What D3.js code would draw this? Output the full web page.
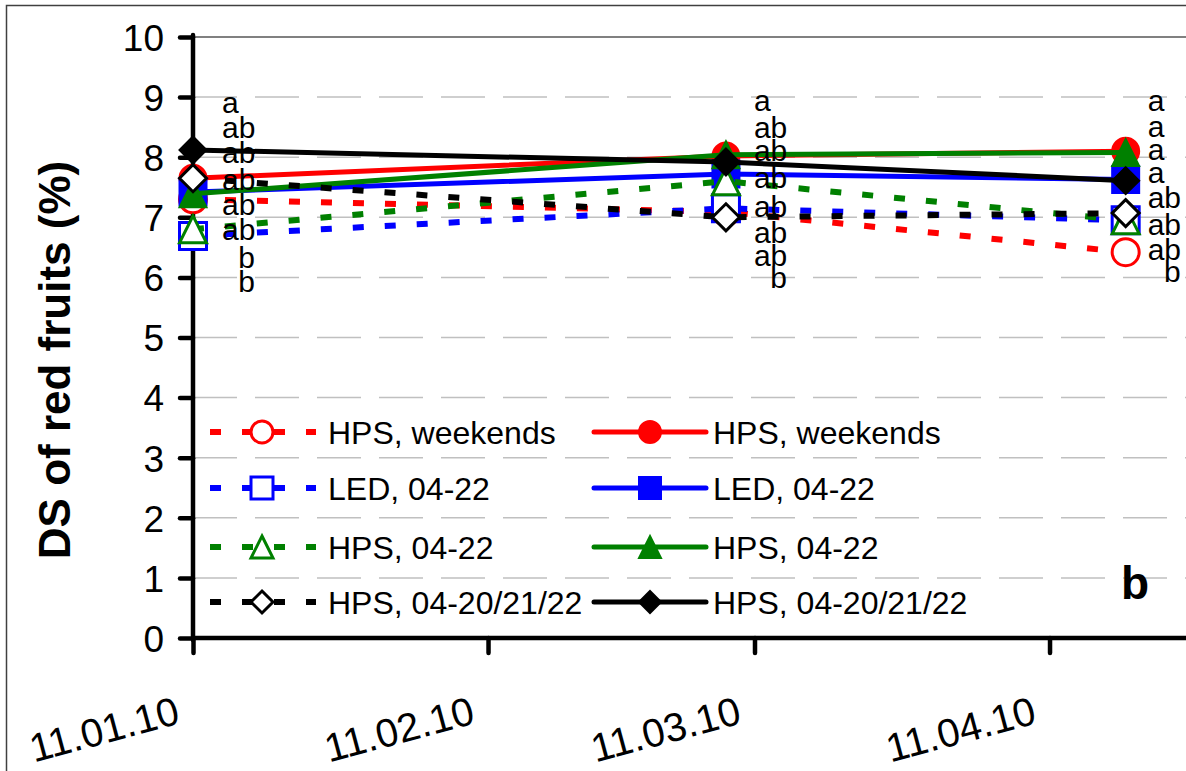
<!DOCTYPE html>
<html>
<head>
<meta charset="utf-8">
<script src="https://cdn.jsdelivr.net/npm/d3@7"></script>
<style>
  body { margin: 0; background: #fff; }
  svg { display: block; font-family: Arial, "Liberation Sans", sans-serif; }
</style>
</head>
<body>
<div class="chart"></div>
<script>
// sampling dates and tick dates
const dates = ["2010-01-11", "2010-03-08", "2010-04-19"];
const tickDates = ["2010-01-11", "2010-02-11", "2010-03-11", "2010-04-11"];
const tickLabels = ["11.01.10", "11.02.10", "11.03.10", "11.04.10"];
const yTicks = [0, 1, 2, 3, 4, 5, 6, 7, 8, 9, 10];

// series values (DS of red fruits, %)
const hpsWeekendsDashed = [7.3, 7.09, 6.42];
const hpsWeekendsSolid = [7.65, 8.02, 8.1];
const led0422Dashed = [6.69, 7.15, 6.95];
const led0422Solid = [7.42, 7.72, 7.63];
const hps0422Dashed = [6.8, 7.6, 6.95];
const hps0422Solid = [7.39, 8.04, 8.08];
const hps042022Dashed = [7.65, 7.0, 7.07];
const hps042022Solid = [8.12, 7.92, 7.61];

const seriesNames = [
  "HPS, weekends", "HPS, weekends",
  "LED, 04-22", "LED, 04-22",
  "HPS, 04-22", "HPS, 04-22",
  "HPS, 04-20/21/22", "HPS, 04-20/21/22"
];

// significance letters beside each date (top to bottom) and their heights
const letters = [
  ["a", "ab", "ab", "ab", "ab", "ab", "b", "b"],
  ["a", "ab", "ab", "ab", "ab", "ab", "ab", "b"],
  ["a", "a", "a", "a", "ab", "ab", "ab", "b"]
];
const letterLevels = [
  [8.87, 8.45, 8.04, 7.59, 7.17, 6.76, 6.29, 5.89],
  [8.9, 8.45, 8.07, 7.62, 7.14, 6.71, 6.32, 5.96],
  [8.9, 8.47, 8.09, 7.7, 7.29, 6.84, 6.42, 6.06]
];
const letterOffsets = [29, 28, 22];

const parse = d3.timeParse("%Y-%m-%d");

const series = [
  { name: seriesNames[0], values: hpsWeekendsDashed, color: "#ff0000", dashed: true, shape: "circle" },
  { name: seriesNames[1], values: hpsWeekendsSolid, color: "#ff0000", dashed: false, shape: "circle" },
  { name: seriesNames[2], values: led0422Dashed, color: "#0000ff", dashed: true, shape: "square" },
  { name: seriesNames[3], values: led0422Solid, color: "#0000ff", dashed: false, shape: "square" },
  { name: seriesNames[4], values: hps0422Dashed, color: "#008000", dashed: true, shape: "triangle" },
  { name: seriesNames[5], values: hps0422Solid, color: "#008000", dashed: false, shape: "triangle" },
  { name: seriesNames[6], values: hps042022Dashed, color: "#000000", dashed: true, shape: "diamond" },
  { name: seriesNames[7], values: hps042022Solid, color: "#000000", dashed: false, shape: "diamond" }
];

const svgWidth = 1186,
  svgHeight = 771,
  axisX = 193,
  axisBottom = 638,
  axisTop = 37,
  fontFamily = "Arial, 'Liberation Sans', sans-serif";

const svg = d3
  .select(".chart")
  .append("svg")
  .attr("width", svgWidth)
  .attr("height", svgHeight);

// outer chart frame (cut off on right and bottom)
svg
  .append("rect")
  .attr("x", 6.5)
  .attr("y", 5.5)
  .attr("width", 2000)
  .attr("height", 2000)
  .attr("fill", "none")
  .attr("stroke", "#404040")
  .attr("stroke-width", 1.5);

const xScale = d3
  .scaleTime()
  .domain([parse("2010-01-11"), parse("2010-05-11")])
  .range([axisX, axisX + 120 * 9.517]);

const yScale = d3.scaleLinear().domain([0, 10]).range([axisBottom, axisTop]);

// gridlines
svg
  .append("g")
  .selectAll("line")
  .data(yTicks.filter((d) => d > 0 && d < 10))
  .enter()
  .append("line")
  .attr("x1", axisX)
  .attr("x2", svgWidth)
  .attr("y1", (d) => yScale(d))
  .attr("y2", (d) => yScale(d))
  .attr("stroke", "#c0c0c0")
  .attr("stroke-width", 1.5)
  .attr("stroke-dasharray", "44,18");

svg
  .append("line")
  .attr("x1", axisX)
  .attr("x2", svgWidth)
  .attr("y1", yScale(10))
  .attr("y2", yScale(10))
  .attr("stroke", "#808080")
  .attr("stroke-width", 2);

// axes
const yAxis = d3.axisLeft(yScale).tickValues(yTicks).tickSize(13).tickPadding(16);
const yG = svg
  .append("g")
  .attr("transform", `translate(${axisX}, 0)`)
  .call(yAxis);
yG.selectAll(".domain").remove();
yG.selectAll(".tick line").attr("stroke", "#000").attr("stroke-width", 4.5).attr("stroke-linecap", "round");
yG.selectAll(".tick text")
  .style("font", `37px ${fontFamily}`)
  .attr("fill", "#000")
  .attr("dy", "0.36em");

const xAxis = d3
  .axisBottom(xScale)
  .tickValues(tickDates.map(parse))
  .tickSize(15)
  .tickFormat((d, i) => tickLabels[i]);
const xG = svg
  .append("g")
  .attr("transform", `translate(0, ${axisBottom})`)
  .call(xAxis);
xG.selectAll(".domain").remove();
xG.selectAll(".tick line").attr("stroke", "#000").attr("stroke-width", 4.5).attr("stroke-linecap", "round");
xG.selectAll(".tick text")
  .style("font", `40px ${fontFamily}`)
  .attr("fill", "#000")
  .attr("text-anchor", "end")
  .attr("y", 0)
  .attr("dy", 0)
  .attr("transform", "translate(-12, 85) rotate(-15)");

svg
  .append("line")
  .attr("x1", axisX)
  .attr("x2", svgWidth)
  .attr("y1", axisBottom)
  .attr("y2", axisBottom)
  .attr("stroke", "#000")
  .attr("stroke-width", 4.5);

svg
  .append("line")
  .attr("x1", axisX)
  .attr("x2", axisX)
  .attr("y1", axisTop - 2)
  .attr("y2", axisBottom + 2)
  .attr("stroke", "#000")
  .attr("stroke-width", 4.5)
  .attr("stroke-linecap", "round");

// y axis title
svg
  .append("text")
  .text("DS of red fruits (%)")
  .attr("transform", "translate(70, 360) rotate(-90)")
  .attr("text-anchor", "middle")
  .style("font", `bold 44px ${fontFamily}`);

function markerPath(shape, s) {
  const h = s / 2;
  if (shape === "circle") {
    return `M${-h},0A${h},${h} 0 1,0 ${h},0A${h},${h} 0 1,0 ${-h},0Z`;
  }
  if (shape === "square") return `M${-h},${-h}H${h}V${h}H${-h}Z`;
  if (shape === "triangle") return `M0,${-h}L${h},${h}L${-h},${h}Z`;
  return `M0,${-h}L${h},0L0,${h}L${-h},0Z`;
}

const line = d3
  .line()
  .x((d, i) => xScale(parse(dates[i])))
  .y((d) => yScale(d));

series.forEach((s) => {
  const g = svg.append("g");
  g.append("path")
    .attr("d", line(s.values))
    .attr("fill", "none")
    .attr("stroke", s.color)
    .attr("stroke-width", s.dashed ? 6 : 5)
    .attr("stroke-dasharray", s.dashed ? "11,21" : null);
  g.selectAll("path.marker")
    .data(s.values)
    .enter()
    .append("path")
    .attr("class", "marker")
    .attr("d", markerPath(s.shape, 27))
    .attr("transform", (d, i) => `translate(${xScale(parse(dates[i]))}, ${yScale(d)})`)
    .attr("fill", s.dashed ? "#fff" : s.color)
    .attr("stroke", s.color)
    .attr("stroke-width", s.dashed ? 3 : 2);
});

// significance letters
dates.forEach((dt, di) => {
  const x0 = xScale(parse(dt)) + letterOffsets[di];
  svg
    .append("g")
    .selectAll("text")
    .data(letters[di])
    .enter()
    .append("text")
    .text((d) => d)
    .attr("x", (d) => (d === "b" ? x0 + 33 : x0))
    .attr("y", (d, i) => yScale(letterLevels[di][i]) + 8)
    .attr("text-anchor", (d) => (d === "b" ? "end" : "start"))
    .style("font", `30px ${fontFamily}`);
});

// legend
const legendRowsY = [432, 488, 547, 602];
const legendCols = [
  { filter: (s) => s.dashed, lineX1: 210, lineX2: 316, markX: 262, textX: 328 },
  { filter: (s) => !s.dashed, lineX1: 594, lineX2: 706, markX: 650, textX: 713 }
];

legendCols.forEach((col) => {
  const items = series.filter(col.filter);
  const rows = svg
    .append("g")
    .selectAll("g")
    .data(items)
    .enter()
    .append("g")
    .attr("transform", (d, i) => `translate(0, ${legendRowsY[i]})`);

  rows
    .append("line")
    .attr("x1", col.lineX1)
    .attr("x2", col.lineX2)
    .attr("stroke", (d) => d.color)
    .attr("stroke-width", (d) => (d.dashed ? 6 : 5))
    .attr("stroke-dasharray", (d) => (d.dashed ? "11,21" : null))
    .attr("stroke-linecap", (d) => (d.dashed ? "butt" : "round"));

  rows
    .append("path")
    .attr("d", (d) => markerPath(d.shape, 22))
    .attr("transform", `translate(${col.markX}, 0)`)
    .attr("fill", (d) => (d.dashed ? "#fff" : d.color))
    .attr("stroke", (d) => d.color)
    .attr("stroke-width", (d) => (d.dashed ? 3 : 2));

  rows
    .append("text")
    .text((d) => d.name)
    .attr("x", col.textX)
    .attr("y", 11.5)
    .style("font", `32px ${fontFamily}`);
});

// panel letter
svg
  .append("text")
  .text("b")
  .attr("x", 1121)
  .attr("y", 599)
  .style("font", `bold 46px ${fontFamily}`);
</script>
</body>
</html>
